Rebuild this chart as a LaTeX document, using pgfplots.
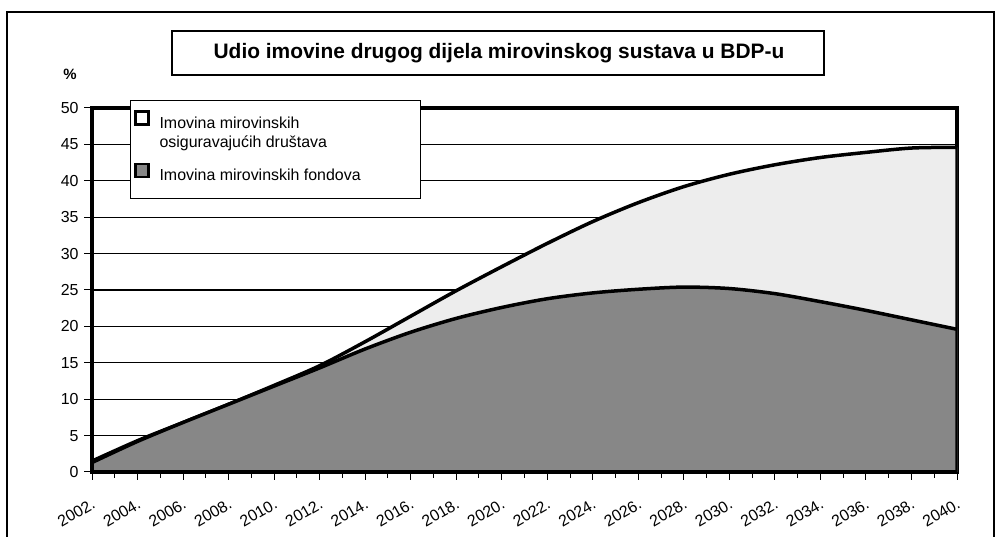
\documentclass[border=0pt]{standalone}
\usepackage{fontspec}
\setmainfont{Liberation Sans}
\usepackage{pgfplots}
\pgfplotsset{compat=1.18}

\definecolor{fondfill}{gray}{0.53}
\definecolor{drustvafill}{gray}{0.93}

\begin{document}
\begin{tikzpicture}
\useasboundingbox (0bp,0bp) rectangle (996bp,537bp);
% outer frame
\draw[line width=1.3bp] (7bp,-20bp) rectangle (994bp,525bp);
% title box
\draw[line width=1.2bp] (172bp,462bp) rectangle (824bp,506bp);
\node[anchor=base] at (499bp,478bp) {\fontsize{21}{25}\selectfont\bfseries Udio imovine drugog dijela mirovinskog sustava u BDP-u};
% unit label
\node at (70bp,463bp) {\fontsize{15}{17}\selectfont\bfseries\%};

\begin{axis}[
  at={(92bp,65bp)}, anchor=south west,
  scale only axis, width=865bp, height=364bp,
  xmin=2002, xmax=2040, ymin=0, ymax=50,
  axis line style={line width=3.5bp, black},
  xtick={2002,2004,...,2040},
  xticklabels={2002.,2004.,2006.,2008.,2010.,2012.,2014.,2016.,2018.,2020.,2022.,2024.,2026.,2028.,2030.,2032.,2034.,2036.,2038.,2040.},
  minor xtick={2003,2005,...,2039},
  ytick={0,5,...,50},
  ymajorgrids,
  major grid style={line width=1.1bp, black},
  tick align=outside, tick pos=left,
  major tick length=8bp, minor tick length=6bp,
  tick style={black, line width=1bp},
  xticklabel style={font=\fontsize{16}{18}\selectfont, yshift=-13bp, rotate=30, anchor=north east},
  yticklabel style={font=\fontsize{16}{18}\selectfont, xshift=-2bp},
  /pgf/number format/assume math mode=true,
  legend cell align=left,
  legend style={at={(0.0439,1.022)}, anchor=north west, draw=black, line width=1.2bp,
    fill=white, font=\fontsize{16}{19}\selectfont,
    inner xsep=5bp, inner ysep=14bp, row sep=25.6bp},
]
% total assets (pension insurance companies stacked on top of funds)
\addplot[smooth, draw=black, line width=3.5bp, fill=drustvafill,
  legend image code/.code={\path[draw=none, fill=none] (0bp,-2bp) rectangle (22bp,2bp);
    \draw[overlay, line width=2.8bp, black, fill=white] (0bp,3.15bp) rectangle (13bp,16.15bp);}]
  coordinates {
  (2002,1.5) (2004,4.3) (2006,6.8) (2008,9.3) (2010,11.9) (2012,14.6)
  (2014,17.9) (2016,21.4) (2018,24.9) (2020,28.2) (2022,31.4) (2024,34.4)
  (2026,37.0) (2028,39.2) (2030,40.9) (2032,42.2) (2034,43.2) (2036,43.9)
  (2038,44.5) (2040,44.6)
  } \closedcycle;
\addlegendentry{\parbox[c]{254bp}{Imovina mirovinskih\\osiguravajućih društava}}
% pension funds
\addplot[smooth, draw=black, line width=3.5bp, fill=fondfill,
  legend image code/.code={\path[draw=none, fill=none] (0bp,-2bp) rectangle (22bp,2bp);
    \draw[overlay, line width=2.8bp, black, fill=fondfill] (0bp,-1.35bp) rectangle (13bp,11.65bp);}]
  coordinates {
  (2002,1.3) (2004,4.2) (2006,6.8) (2008,9.3) (2010,11.8) (2012,14.3)
  (2014,16.9) (2016,19.2) (2018,21.1) (2020,22.6) (2022,23.8) (2024,24.6)
  (2026,25.1) (2028,25.4) (2030,25.2) (2032,24.5) (2034,23.4) (2036,22.2)
  (2038,20.9) (2040,19.6)
  } \closedcycle;
\addlegendentry{\parbox[c]{254bp}{Imovina mirovinskih fondova\rule[-4bp]{0pt}{0pt}}}
\end{axis}
\end{tikzpicture}
\end{document}
